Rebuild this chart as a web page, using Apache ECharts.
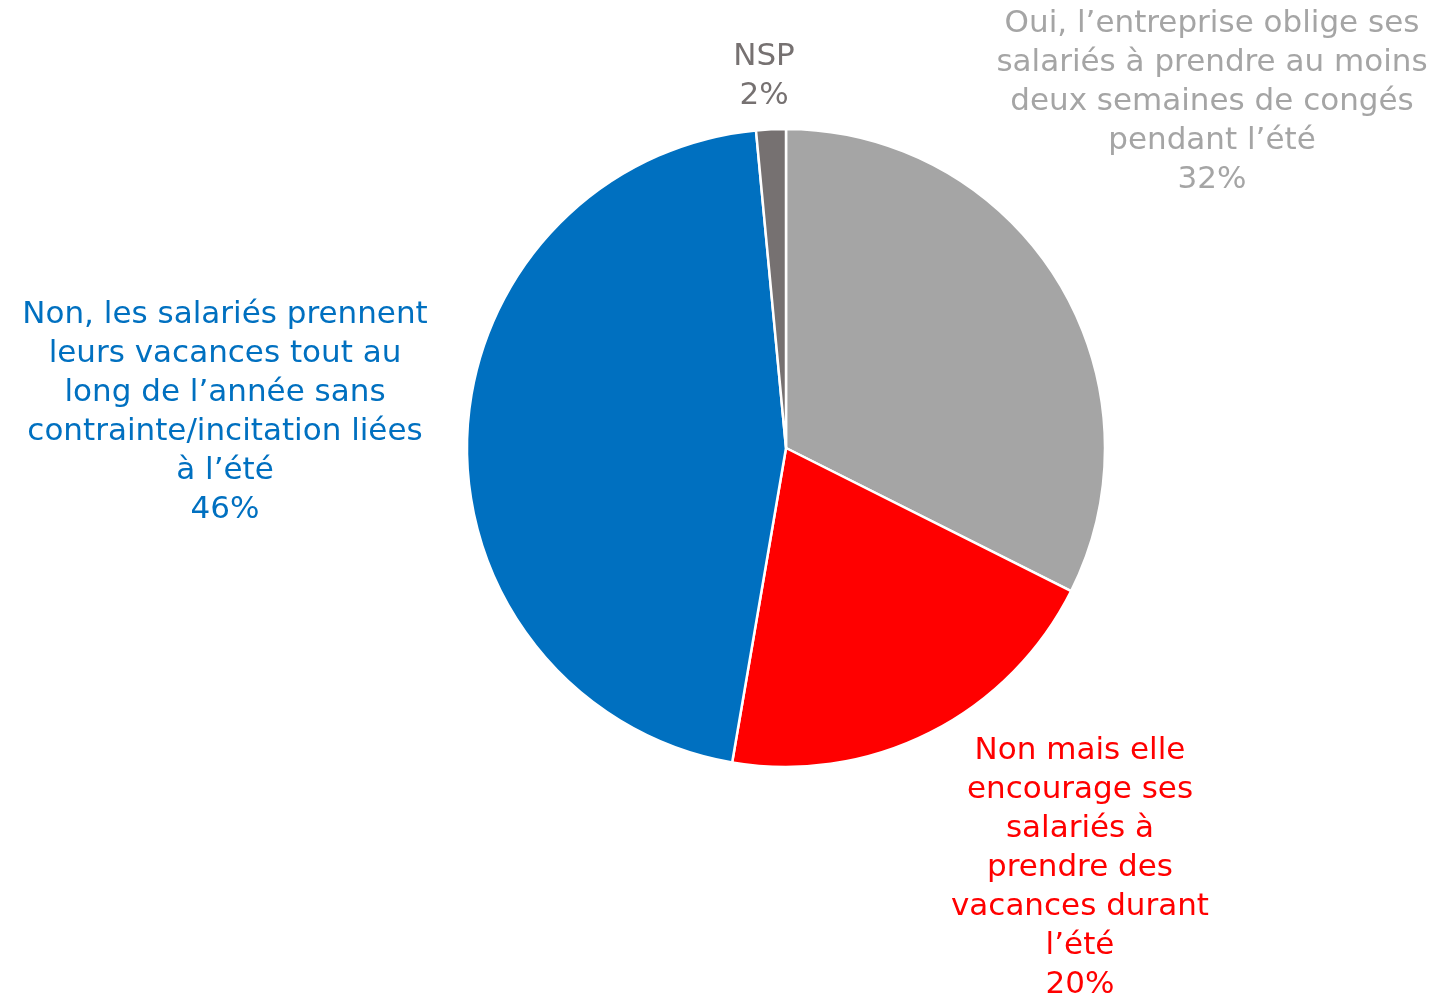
<!DOCTYPE html>
<html>
<head>
<meta charset="utf-8">
<script src="https://cdn.jsdelivr.net/npm/echarts@6/dist/echarts.min.js"></script>
<style>
  html, body { margin: 0; padding: 0; background: #fff; }
  #chart { width: 1443px; height: 996px; }
</style>
</head>
<body>
<div id="chart"></div>
<script>
// slices, clockwise from 12 o'clock
var names = [
    'Oui, l\u2019entreprise oblige ses\nsalariés à prendre au moins\ndeux semaines de congés\npendant l\u2019été',
    'Non mais elle\nencourage ses\nsalariés à\nprendre des\nvacances durant\nl\u2019été',
    'Non, les salariés prennent\nleurs vacances tout au\nlong de l\u2019année sans\ncontrainte/incitation liées\nà l\u2019été',
    'NSP'
]
var values = [32.4, 20.3, 45.8, 1.5]
var labels = ['32%', '20%', '46%', '2%']
var colors = ['#A5A5A5', '#FF0000', '#0070C0', '#767171']

// label anchor points (centre of each text block)
var labelPos = [[1212, 102], [1080, 868], [225, 412], [764, 76]]

var chart = echarts.init(document.getElementById('chart'))
chart.setOption({
    animation: false,
    series: [{
        type: 'pie',
        center: [786, 448],
        radius: 319,
        startAngle: 90,
        clockwise: true,
        data: values.map(function (v, i) {
            return {
                value: v,
                name: names[i],
                itemStyle: {color: colors[i]},
                label: {color: colors[i]}
            }
        }),
        itemStyle: {borderColor: '#fff', borderWidth: 2.5},
        label: {
            show: true,
            position: 'outside',
            fontFamily: 'DejaVu Sans',
            fontSize: 31,
            lineHeight: 39,
            align: 'center',
            overflow: 'none',
            formatter: function (p) { return p.name + '\n' + labels[p.dataIndex] }
        },
        labelLine: {show: false},
        labelLayout: function (p) {
            return {
                x: labelPos[p.dataIndex][0],
                y: labelPos[p.dataIndex][1],
                align: 'center',
                verticalAlign: 'middle'
            }
        }
    }]
})
</script>
</body>
</html>
